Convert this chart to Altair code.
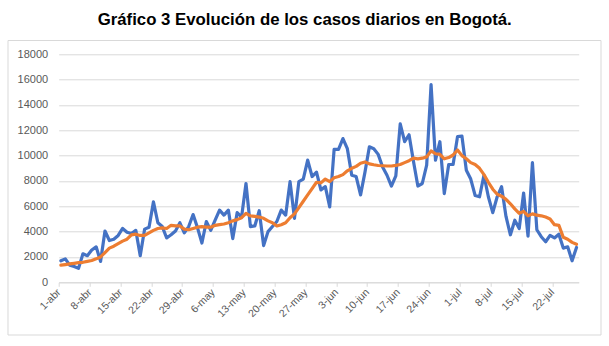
import json
import altair as alt
import pandas as pd

titulo = "Gráfico 3 Evolución de los casos diarios en Bogotá."

tick_labels = ["1-abr", "8-abr", "15-abr", "22-abr", "29-abr", "6-may", "13-may",
               "20-may", "27-may", "3-jun", "10-jun", "17-jun", "24-jun", "1-jul",
               "8-jul", "15-jul", "22-jul"]

casos_diarios = [
    1700, 1850, 1350, 1250, 1100, 2250, 2100, 2550, 2800, 1650,
    4050, 3300, 3400, 3700, 4250, 3950, 3850, 4100, 2100, 4200,
    4350, 6350, 4700, 4400, 3500, 3750, 4050, 4700, 3900, 4400,
    5350, 4300, 3100, 4800, 4100, 4900, 5700, 5300, 5700, 3450,
    5500, 5150, 7800, 4400, 4450, 5650, 2900, 4000, 4400, 4800,
    5700, 5300, 7950, 5050, 7950, 8150, 9650, 8350, 8700, 7300,
    7550, 5950, 10500, 10500, 11350, 10550, 8450, 8350, 6900, 8700,
    10700, 10550, 10100, 9100, 8450, 7600, 8400, 12500, 11100, 11650,
    9550, 7600, 7800, 9250, 15600, 9650, 11100, 7000, 9300, 9300,
    11500, 11550, 8850, 8150, 6850, 6750, 8450, 6750, 5500, 6750,
    7550, 5200, 3750, 4900, 4250, 7050, 3650, 9450, 4150, 3600,
    3200, 3700, 3500, 3800, 2700, 2800, 1700, 2750,
]

media_movil = [
    1350, 1400, 1450, 1500, 1550, 1580, 1650, 1720, 1850, 2000,
    2350, 2700, 2850, 3050, 3250, 3400, 3750, 3800, 3700, 3700,
    3900, 4100, 4250, 4300, 4250, 4500, 4450, 4450, 4200, 4150,
    4250, 4350, 4400, 4350, 4350, 4500, 4550, 4600, 4700, 4850,
    4950, 5100, 5450, 5250, 5200, 5150, 5050, 4850, 4700, 4450,
    4550, 4700, 5100, 5400, 5900, 6400, 6900, 7400, 7900, 7850,
    8150, 7950, 8250, 8350, 8500, 8800, 9000, 9150, 9400, 9500,
    9350, 9280, 9220, 9200, 9180, 9180, 9230, 9300, 9450, 9600,
    9800, 9750, 9800, 9900, 10380, 10150, 10100, 9750, 9850, 10050,
    10450, 10000, 9750, 9450, 9300, 9000, 8500, 7900, 7350, 6950,
    6800, 6550, 6200, 5800, 5450, 5600, 5250, 5400, 5300, 5250,
    5150, 5000, 4550, 4500, 3550, 3400, 3150, 3000,
]

series = ["Casos diarios", "Media móvil"]
colores = ["#4472C4", "#ED7D31"]

n = len(casos_diarios)
df = pd.DataFrame({
    "dia": list(range(n)) * 2,
    "serie": [series[0]] * n + [series[1]] * n,
    "valor": casos_diarios + media_movil,
})

tick_vals = [7 * i for i in range(len(tick_labels))]
label_expr = json.dumps(tick_labels) + "[round(datum.value / 7)]"

W, H = 520, 228
PAD_L, PAD_T = 58.7, 54.3

x_enc = alt.X(
    "pos:Q",
    scale=alt.Scale(domain=[0, n], nice=False, zero=False),
    axis=alt.Axis(
        values=tick_vals, labelExpr=label_expr, labelAngle=-45,
        labelAlign="right", labelBaseline="middle", labelPadding=4,
        tickSize=4, tickColor="#d9d9d9", domainColor="#d9d9d9",
        grid=False, title=None, labelFontSize=10.5, labelColor="#595959",
        labelFont="Liberation Sans", labelOverlap=False,
    ),
)
y_enc = alt.Y(
    "valor:Q",
    scale=alt.Scale(domain=[0, 18000], nice=False),
    axis=alt.Axis(
        values=list(range(0, 18001, 2000)), format="d", domain=False,
        ticks=False, gridColor="#d9d9d9", gridWidth=1, title=None,
        labelFontSize=11, labelColor="#595959", labelFont="Liberation Sans",
        labelPadding=11,
    ),
)

lines = alt.Chart(df).transform_calculate(
    pos="datum.dia + 0.5"
).mark_line(strokeWidth=3.2, strokeJoin="round", strokeCap="round").encode(
    x=x_enc,
    y=y_enc,
    color=alt.Color("serie:N", scale=alt.Scale(domain=series, range=colores), legend=None),
    order=alt.Order("dia:Q"),
)

frame = alt.Chart(pd.DataFrame({"k": [0]})).mark_rect(
    fill="white", fillOpacity=0, stroke="#d9d9d9", strokeWidth=1
).encode(
    x=alt.value(8 - PAD_L), x2=alt.value(601 - PAD_L),
    y=alt.value(40.5 - PAD_T), y2=alt.value(335 - PAD_T),
)

chart = alt.layer(frame, lines).properties(
    width=W, height=H,
    title=alt.TitleParams(
        titulo, font="Liberation Sans", fontSize=16.8, fontWeight="bold",
        color="black", anchor="middle", dx=-14, offset=11,
    ),
    autosize=alt.AutoSizeParams(type="none"),
    padding={"left": PAD_L, "top": PAD_T, "right": 609 - PAD_L - W, "bottom": 346 - PAD_T - H},
    background="white",
).configure_view(stroke=None)

chart.save("out.html", embed_options={"renderer": "svg", "actions": False})
